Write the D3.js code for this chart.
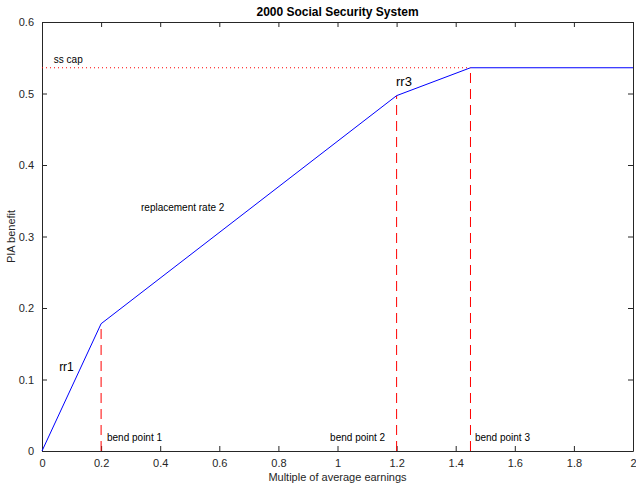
<!DOCTYPE html>
<html>
<head>
<meta charset="utf-8">
<script src="https://cdn.jsdelivr.net/npm/d3@7"></script>
<style>
  html, body { margin: 0; padding: 0; background: #fff; }
  svg { display: block; font-family: "Liberation Sans", Arial, Helvetica, sans-serif; }
</style>
</head>
<body>
<svg id="chart" width="636" height="485"></svg>
<script>
// PIA benefit schedule (kinked line)
const earnings = [0, 0.2, 1.2, 1.45, 2];
const benefit  = [0, 0.178, 0.497, 0.536, 0.536];

// Bend points and cap
const bendPoints = [0.2, 1.2, 1.45];
const bendBenefit = [0.178, 0.497, 0.536];
const bendLabels = ["bend point 1", "bend point 2", "bend point 3"];
const bendLabelX = [0.22, 0.975, 1.465];
const ssCap = 0.536;

// Axis ticks
const xTicks = [0, 0.2, 0.4, 0.6, 0.8, 1, 1.2, 1.4, 1.6, 1.8, 2];
const yTicks = [0, 0.1, 0.2, 0.3, 0.4, 0.5, 0.6];

// Text annotations: [label, x, y, font size]
const notes = [
  ["ss cap", 0.04, 0.542, 10],
  ["rr1", 0.058, 0.112, 12],
  ["replacement rate 2", 0.335, 0.335, 10],
  ["rr3", 1.198, 0.51, 13]
];

const svg = d3.select("#chart");
const plotLeft = 42, plotRight = 633, plotTop = 22, plotBottom = 451;
const x = d3.scaleLinear().domain([0, 2]).range([plotLeft, plotRight]);
const y = d3.scaleLinear().domain([0, 0.6]).range([plotBottom, plotTop]);
const axisColor = "#262626";
const fmt = d => String(+d.toFixed(1));

// Axes with inward ticks on all four sides
const gx = svg.append("g").attr("transform", `translate(0,${plotBottom})`)
  .call(d3.axisBottom(x).tickValues(xTicks).tickFormat(fmt).tickSizeInner(-5).tickSizeOuter(0).tickPadding(8));
const gxt = svg.append("g").attr("transform", `translate(0,${plotTop})`)
  .call(d3.axisTop(x).tickValues(xTicks).tickFormat("").tickSizeInner(-5).tickSizeOuter(0));
const gy = svg.append("g").attr("transform", `translate(${plotLeft},0)`)
  .call(d3.axisLeft(y).tickValues(yTicks).tickFormat(fmt).tickSizeInner(-5).tickSizeOuter(0).tickPadding(8));
const gyr = svg.append("g").attr("transform", `translate(${plotRight},0)`)
  .call(d3.axisRight(y).tickValues(yTicks).tickFormat("").tickSizeInner(-5).tickSizeOuter(0));
[gx, gxt, gy, gyr].forEach(g => {
  g.selectAll("path.domain").attr("stroke", axisColor).attr("stroke-width", 1);
  g.selectAll(".tick line").attr("stroke", axisColor);
  g.selectAll(".tick text").attr("fill", "#262626").attr("font-size", 11)
    .attr("font-family", "'Liberation Sans', Arial, sans-serif");
});

// Title and axis labels
svg.append("text").attr("x", (plotLeft + plotRight) / 2).attr("y", 16)
  .attr("text-anchor", "middle").attr("font-size", 12).attr("font-weight", "bold")
  .text("2000 Social Security System");
svg.append("text").attr("x", (plotLeft + plotRight) / 2).attr("y", 481)
  .attr("text-anchor", "middle").attr("font-size", 11).attr("fill", "#262626")
  .text("Multiple of average earnings");
svg.append("text").attr("transform", `translate(15,${(plotTop + plotBottom) / 2}) rotate(-90)`)
  .attr("text-anchor", "middle").attr("font-size", 11).attr("fill", "#262626")
  .text("PIA benefit");

// SS cap dotted line
svg.append("line")
  .attr("x1", x(0)).attr("x2", x(bendPoints[2]))
  .attr("y1", y(ssCap)).attr("y2", y(ssCap))
  .attr("stroke", "#ff0000").attr("stroke-width", 1).attr("stroke-dasharray", "1,3");

// Bend point dashed lines
svg.selectAll("line.bend").data(bendPoints).join("line").attr("class", "bend")
  .attr("x1", d => x(d)).attr("x2", d => x(d))
  .attr("y1", y(0)).attr("y2", (d, i) => y(bendBenefit[i]))
  .attr("stroke", "#ff0000").attr("stroke-width", 1).attr("stroke-dasharray", "10,6");

// Benefit line
const line = d3.line().x(d => x(d[0])).y(d => y(d[1]));
svg.append("path").datum(earnings.map((e, i) => [e, benefit[i]]))
  .attr("d", line).attr("fill", "none").attr("stroke", "#0000ff").attr("stroke-width", 1);

// Bend point labels
svg.selectAll("text.bend").data(bendLabels).join("text").attr("class", "bend")
  .attr("x", (d, i) => x(bendLabelX[i])).attr("y", y(0.014))
  .attr("font-size", 10).attr("fill", "#000").text(d => d);

// Other annotations
svg.selectAll("text.note").data(notes).join("text").attr("class", "note")
  .attr("x", d => x(d[1])).attr("y", d => y(d[2]))
  .attr("font-size", d => d[3]).attr("fill", "#000").text(d => d[0]);
</script>
</body>
</html>
